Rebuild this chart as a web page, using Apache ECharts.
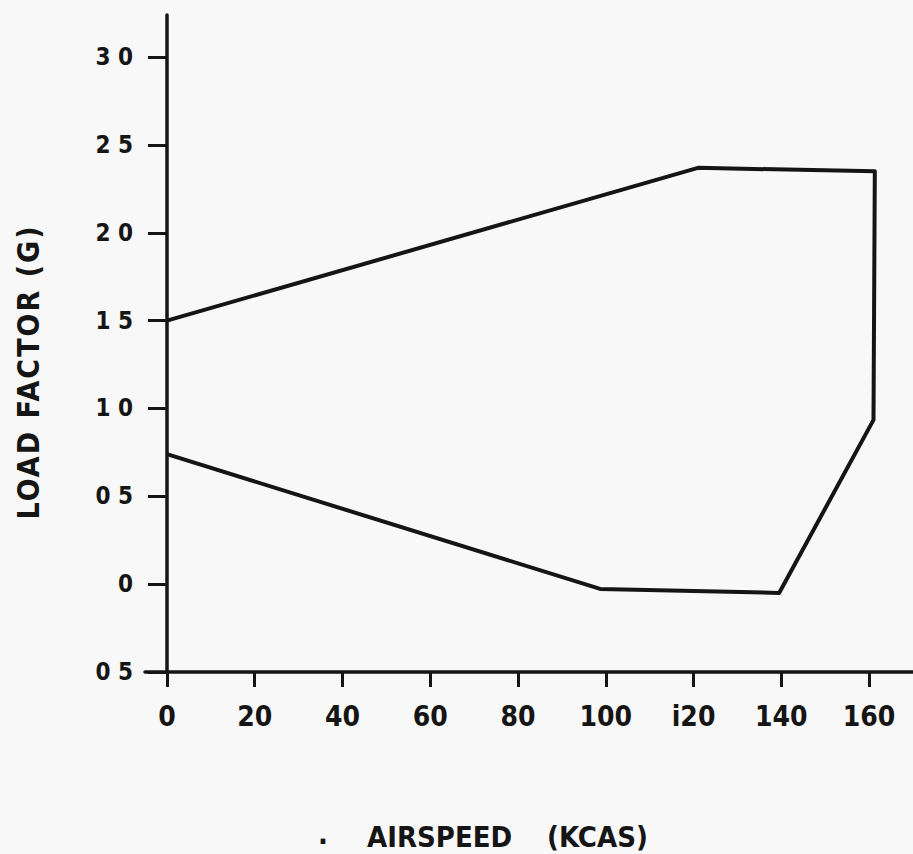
<!DOCTYPE html>
<html><head><meta charset="utf-8">
<script src="https://cdn.jsdelivr.net/npm/echarts@6/dist/echarts.min.js"></script>
<style>html,body{margin:0;padding:0;background:#f8f8f8;} #c{width:913px;height:854px;}</style>
</head><body><div id="c"></div>
<script>
const xTickValues = [0, 20, 40, 60, 80, 100, 120, 140, 160];
const xTickLabels = ['0', '20', '40', '60', '80', '100', 'i20', '140', '160'];
const yTickValues = [-0.5, 0, 0.5, 1, 1.5, 2, 2.5, 3];
const yTickLabels = ['0 5', '0', '0 5', '1 0', '1 5', '2 0', '2 5', '3 0'];
const airspeed = [0, 121, 161.3, 161.0, 139.5, 98.7, 0];
const loadFactor = [1.5, 2.37, 2.35, 0.935, -0.05, -0.027, 0.74];
const xTitle = ['.', 'AIRSPEED', '(KCAS)'];
const yTitle = 'LOAD FACTOR (G)';

const FONT = "'Liberation Sans Narrow','DejaVu Sans Condensed','Liberation Sans',sans-serif";
const INK = '#151515';
function lookup(vals, labels, v) {
  for (let i = 0; i < vals.length; i++) if (Math.abs(vals[i] - v) < 1e-6) return labels[i];
  return '';
}
const chart = echarts.init(document.getElementById('c'), null, {renderer: 'svg', width: 913, height: 854});
chart.setOption({
  backgroundColor: '#f8f8f8',
  animation: false,
  grid: {left: 145, right: 0, top: 15, bottom: 182},
  xAxis: {
    type: 'value', min: -5, max: 170,
    axisLine: {onZero: false, lineStyle: {color: INK, width: 3.5}},
    axisTick: {show: true, customValues: xTickValues, length: 15, lineStyle: {color: INK, width: 3}},
    axisLabel: {customValues: xTickValues, formatter: v => lookup(xTickValues, xTickLabels, v),
      margin: 30, color: INK, fontFamily: FONT, fontWeight: 'bold', fontSize: 28},
    splitLine: {show: false}
  },
  yAxis: {
    type: 'value', min: -0.5, max: 3.24,
    axisLine: {onZero: true, lineStyle: {color: INK, width: 3.5}},
    axisTick: {show: true, customValues: yTickValues, length: 19, lineStyle: {color: INK, width: 3}},
    axisLabel: {customValues: yTickValues, formatter: v => lookup(yTickValues, yTickLabels, v),
      margin: 12, color: INK, fontFamily: FONT, fontWeight: 'bold', fontSize: 24},
    splitLine: {show: false}
  },
  series: [{
    type: 'line', data: airspeed.map((x, i) => [x, loadFactor[i]]),
    symbol: 'none', clip: false,
    lineStyle: {color: INK, width: 4, join: 'round'}
  }],
  graphic: [
    {type: 'text', x: 28, y: 372, rotation: Math.PI / 2,
      style: {text: yTitle, font: 'bold 30px ' + FONT, fill: INK, align: 'center', verticalAlign: 'middle'}},
    {type: 'text', x: 323, y: 834,
      style: {text: xTitle[0], font: 'bold 29px ' + FONT, fill: INK, align: 'center', verticalAlign: 'middle'}},
    {type: 'text', x: 367, y: 837,
      style: {text: xTitle[1], font: 'bold 29px ' + FONT, fill: INK, align: 'left', verticalAlign: 'middle'}},
    {type: 'text', x: 547, y: 837,
      style: {text: xTitle[2], font: 'bold 29px ' + FONT, fill: INK, align: 'left', verticalAlign: 'middle'}}
  ]
});
document.querySelectorAll('#c svg text').forEach(t => {
  if (t.textContent === yTitle) t.setAttribute('letter-spacing', '2');
});
</script>
</body></html>
